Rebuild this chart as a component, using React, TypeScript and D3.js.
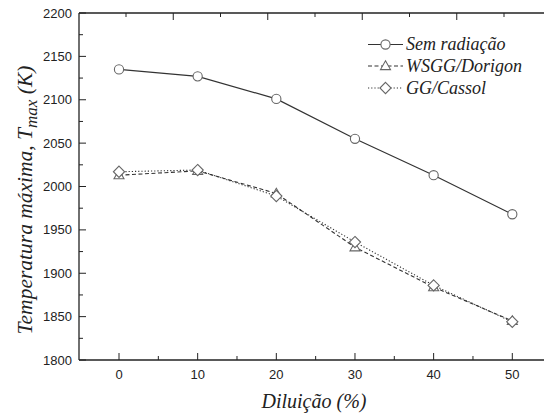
import React from "react";
import * as d3 from "d3";

const dilution = [0, 10, 20, 30, 40, 50];
const semRadiacao = [2135, 2127, 2101, 2055, 2013, 1968];
const wsggDorigon = [2013, 2018, 1992, 1930, 1884, 1845];
const ggCassol = [2017, 2019, 1989, 1936, 1886, 1844];
const yTicks = [1800, 1850, 1900, 1950, 2000, 2050, 2100, 2150, 2200];
const xTicks = [0, 10, 20, 30, 40, 50];
const seriesNames = ["Sem radiação", "WSGG/Dorigon", "GG/Cassol"];

const W = 544, H = 416;
const left = 79, top = 13, bottom = 360;

export default function App() {
  const x = d3.scaleLinear().domain([0, 50]).range([119, 512.3]);
  const y = d3.scaleLinear().domain([1800, 2200]).range([bottom, top]);
  const xTop = d3.scaleLinear().domain([0, 8]).range([126, 504]);

  const line = d3.line<[number, number]>().x(d => x(d[0])).y(d => y(d[1]));
  const mk = (vals: number[]) => dilution.map((d, i) => [d, vals[i]] as [number, number]);

  const minorX = d3.range(5, 55, 10);
  const minorY = d3.range(1825, 2200, 50);
  const topIdx = d3.range(0, 9);

  const markerStroke = "#666";
  const lineColor = "#333";

  const circle = (cx: number, cy: number, k: string) => (
    <circle key={k} cx={cx} cy={cy} r={4.6} fill="#fff" stroke={markerStroke} strokeWidth={1.1} />
  );
  const tri = (cx: number, cy: number, k: string) => (
    <path key={k} d={`M${cx},${cy - 5.2}L${cx + 5},${cy + 3.6}L${cx - 5},${cy + 3.6}Z`} fill="#fff" stroke={markerStroke} strokeWidth={1.1} />
  );
  const dia = (cx: number, cy: number, k: string) => (
    <path key={k} d={`M${cx},${cy - 5.6}L${cx + 5.6},${cy}L${cx},${cy + 5.6}L${cx - 5.6},${cy}Z`} fill="#fff" stroke={markerStroke} strokeWidth={1.1} />
  );

  const legendX0 = 368, legendX1 = 403, legendTextX = 406;
  const legendY = [44.5, 66, 88];

  return (
    <svg width={W} height={H} style={{ position: "absolute", left: 0, top: 0 }}>
      <style>{`
        .tk { font-family: "Liberation Sans"; font-size: 13px; fill: #222; }
        .ser { font-family: "Liberation Serif"; font-style: italic; fill: #222; }
      `}</style>
      <rect x={0} y={0} width={W} height={H} fill="#fff" />
      <line x1={left} x2={W} y1={top} y2={top} stroke="#222" strokeWidth={1.3} />
      <line x1={left} x2={W} y1={bottom} y2={bottom} stroke="#222" strokeWidth={1.3} />
      <line x1={left} x2={left} y1={top} y2={bottom} stroke="#222" strokeWidth={1.3} />
      {topIdx.map(i => (
        <line key={"tt" + i} x1={xTop(i)} x2={xTop(i)} y1={top} y2={top + (i % 2 === 1 ? 7 : 4)} stroke="#222" strokeWidth={1} />
      ))}
      {xTicks.map(t => (
        <line key={"bx" + t} x1={x(t)} x2={x(t)} y1={bottom} y2={bottom - 7} stroke="#222" strokeWidth={1} />
      ))}
      {minorX.map(t => (
        <line key={"mx" + t} x1={x(t)} x2={x(t)} y1={bottom} y2={bottom - 4} stroke="#222" strokeWidth={1} />
      ))}
      {xTicks.map(t => (
        <text key={"lx" + t} className="tk" x={x(t)} y={379} textAnchor="middle">{t}</text>
      ))}
      {yTicks.map(t => (
        <line key={"by" + t} x1={left} x2={left + 7} y1={y(t)} y2={y(t)} stroke="#222" strokeWidth={1} />
      ))}
      {minorY.map(t => (
        <line key={"my" + t} x1={left} x2={left + 4} y1={y(t)} y2={y(t)} stroke="#222" strokeWidth={1} />
      ))}
      {yTicks.map(t => (
        <text key={"ly" + t} className="tk" x={72} y={y(t) + 4.5} textAnchor="end">{t}</text>
      ))}
      <text className="ser" x={314} y={408} textAnchor="middle" fontSize={20}>Diluição (%)</text>
      <text className="ser" transform={`translate(32,${200}) rotate(-90)`} textAnchor="middle" fontSize={21.5}>
        Temperatura máxima, T<tspan fontSize={17} dy={5}>max</tspan><tspan dy={-5}> (K)</tspan>
      </text>
      <path d={line(mk(semRadiacao)) || ""} fill="none" stroke={lineColor} strokeWidth={1.2} />
      <path d={line(mk(wsggDorigon)) || ""} fill="none" stroke={lineColor} strokeWidth={1.1} strokeDasharray="4,2.5" />
      <path d={line(mk(ggCassol)) || ""} fill="none" stroke={lineColor} strokeWidth={1.1} strokeDasharray="1.2,2" />
      {dilution.map((d, i) => circle(x(d), y(semRadiacao[i]), "c" + i))}
      {dilution.map((d, i) => tri(x(d), y(wsggDorigon[i]), "t" + i))}
      {dilution.map((d, i) => dia(x(d), y(ggCassol[i]), "d" + i))}
      <line x1={legendX0} x2={legendX1} y1={legendY[0]} y2={legendY[0]} stroke={lineColor} strokeWidth={1.2} />
      <line x1={legendX0} x2={legendX1} y1={legendY[1]} y2={legendY[1]} stroke={lineColor} strokeWidth={1.1} strokeDasharray="4,2.5" />
      <line x1={legendX0} x2={legendX1} y1={legendY[2]} y2={legendY[2]} stroke={lineColor} strokeWidth={1.1} strokeDasharray="1.2,2" />
      {circle((legendX0 + legendX1) / 2, legendY[0], "lc")}
      {tri((legendX0 + legendX1) / 2, legendY[1], "lt")}
      {dia((legendX0 + legendX1) / 2, legendY[2], "ld")}
      {seriesNames.map((s, i) => (
        <text key={s} className="ser" x={legendTextX} y={legendY[i] + 5.5} fontSize={18}>{s}</text>
      ))}
    </svg>
  );
}
